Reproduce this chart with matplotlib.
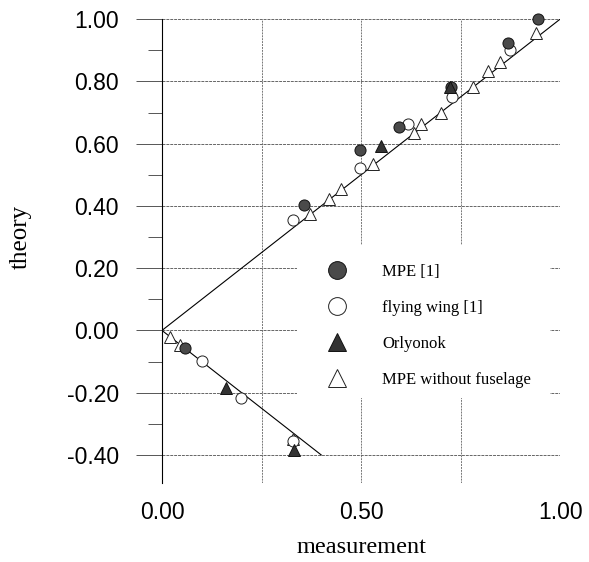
import matplotlib.pyplot as plt
from matplotlib.patches import Rectangle
from matplotlib.ticker import MultipleLocator, FormatStrFormatter

# data
mpe_x = [0.945, 0.868, 0.726, 0.596, 0.497, 0.357, 0.058]
mpe_y = [1.00, 0.924, 0.781, 0.654, 0.580, 0.404, -0.055]

wing_x = [0.874, 0.728, 0.617, 0.497, 0.328, 0.100, 0.199, 0.330]
wing_y = [0.900, 0.751, 0.663, 0.523, 0.355, -0.097, -0.216, -0.354]

orly_x = [0.724, 0.549, 0.161, 0.332]
orly_y = [0.781, 0.592, -0.186, -0.384]

nofus_x = [0.940, 0.849, 0.820, 0.780, 0.701, 0.650, 0.632, 0.530, 0.450,
           0.420, 0.372, 0.020, 0.045, 0.330]
nofus_y = [0.954, 0.863, 0.834, 0.781, 0.700, 0.662, 0.633, 0.533, 0.453,
           0.422, 0.373, -0.020, -0.047, -0.350]

pos_line_x = [0.0, 1.0]
pos_line_y = [0.0, 1.0]
neg_line_x = [0.0, 0.4]
neg_line_y = [0.0, -0.4]

SERIF = "Liberation Serif"
SANS = "Liberation Sans"

fig = plt.figure(figsize=(5.89, 5.62), dpi=100, facecolor="white")
ax = fig.add_axes([0.275, 0.1406, 0.676, 0.8254])
ax.set_xlim(0, 1.0)
ax.set_ylim(-0.49, 1.0)

for side in ["top", "right", "bottom"]:
    ax.spines[side].set_visible(False)
ax.spines["left"].set_linewidth(0.8)

ax.xaxis.set_major_locator(MultipleLocator(0.5))
ax.xaxis.set_minor_locator(MultipleLocator(0.25))
ax.yaxis.set_major_locator(MultipleLocator(0.2))
ax.yaxis.set_minor_locator(MultipleLocator(0.1))
ax.xaxis.set_major_formatter(FormatStrFormatter("%.2f"))
ax.yaxis.set_major_formatter(FormatStrFormatter("%.2f"))

ax.tick_params(axis="x", which="both", length=0, pad=13, labelsize=16.5)
ax.tick_params(axis="y", which="major", length=19, width=0.7, color="#555555",
               pad=12, labelsize=16.5)
ax.tick_params(axis="y", which="minor", length=10, width=0.7, color="#555555")
for lbl in ax.get_xticklabels() + ax.get_yticklabels():
    lbl.set_fontfamily(SANS)

ax.set_axisbelow(True)
ax.xaxis.grid(True, which="both", color="#777777", lw=0.7, ls=(0, (2, 1)))
ax.yaxis.grid(True, which="major", color="#666666", lw=0.7, ls=(0, (3, 1)))

# white legend panel hiding the grid
ax.add_patch(Rectangle((0.339, 0.183), 0.636, 0.330, transform=ax.transAxes,
                       facecolor="white", edgecolor="none", zorder=1))

ax.plot(pos_line_x, pos_line_y, color="black", lw=0.8, zorder=2)
ax.plot(neg_line_x, neg_line_y, color="black", lw=0.8, zorder=2)

ms = 8
ax.plot(nofus_x, nofus_y, "^", ls="none", ms=ms, mfc="white", mec="#222222",
        mew=0.7, clip_on=False, zorder=3, label="MPE without fuselage")
ax.plot(wing_x, wing_y, "o", ls="none", ms=ms, mfc="white", mec="#222222",
        mew=0.7, clip_on=False, zorder=3, label="flying wing [1]")
ax.plot(mpe_x, mpe_y, "o", ls="none", ms=ms, mfc="#4a4a4a", mec="#111111",
        mew=0.7, clip_on=False, zorder=4, label="MPE [1]")
ax.plot(orly_x, orly_y, "^", ls="none", ms=ms, mfc="#333333", mec="#111111",
        mew=0.7, clip_on=False, zorder=4, label="Orlyonok")

handles, labels = ax.get_legend_handles_labels()
order = [2, 1, 3, 0]
ax.legend([handles[i] for i in order], [labels[i] for i in order],
          loc="upper left", bbox_to_anchor=(0.398, 0.472), frameon=False,
          prop={"family": SERIF, "size": 12}, markerscale=1.6,
          handlelength=2.0, handletextpad=1.7, labelspacing=1.2,
          borderpad=0.0, borderaxespad=0.0)

ax.set_xlabel("measurement", fontfamily=SERIF, fontsize=17.5, labelpad=9)
ax.set_ylabel("theory", fontfamily=SERIF, fontsize=18)
ax.yaxis.set_label_coords(-0.328, 0.53)

fig.savefig("out.png", dpi=100, facecolor="white")
